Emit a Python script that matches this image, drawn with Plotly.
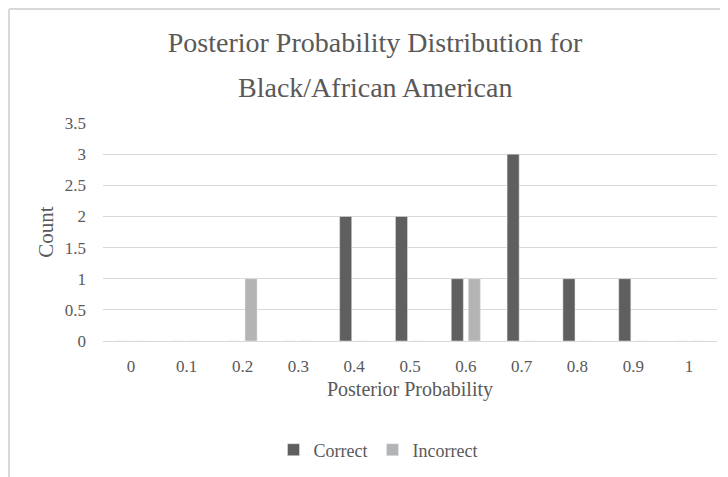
import plotly.graph_objects as go

categories = ["0", "0.1", "0.2", "0.3", "0.4", "0.5", "0.6", "0.7", "0.8", "0.9", "1"]
correct = [0, 0, 0, 0, 2, 2, 1, 3, 1, 1, 0]
incorrect = [0, 0, 1, 0, 0, 0, 1, 0, 0, 0, 0]
y_ticks = [0, 0.5, 1, 1.5, 2, 2.5, 3, 3.5]
y_ticklabels = ["0", "0.5", "1", "1.5", "2", "2.5", "3", "3.5"]
title_line1 = "Posterior Probability Distribution for"
title_line2 = "Black/African American"

FONT = "Liberation Serif, Times New Roman, serif"
TXT = "#595959"

fig = go.Figure()
fig.add_trace(go.Bar(name="Correct", x=categories, y=correct, marker_color="#5f5f5f"))
fig.add_trace(go.Bar(name="Incorrect", x=categories, y=incorrect, marker_color="#b4b4b4"))

# page has an 8px body margin; figure coords = page coords - 8
W, H = 720, 469
L, R, T, B = 95, 11, 115, 136
pw, ph = W - L - R, H - T - B


def px_x(v):
    return (v - L) / pw


def px_y(v):
    return (H - B - v) / ph


border = dict(color="#d9d9d9", width=2)

fig.update_layout(
    width=W, height=H,
    margin=dict(l=L, r=R, t=T, b=B),
    paper_bgcolor="white", plot_bgcolor="white",
    font=dict(family=FONT, color=TXT, size=17),
    barmode="group", bargap=0.39, bargroupgap=0.29,
    title=dict(text=title_line1,
               x=367 / W, xanchor="center", xref="container",
               y=1 - 34.5 / H, yanchor="middle", yref="container",
               font=dict(family=FONT, size=28, color=TXT)),
    annotations=[dict(text=title_line2, xref="paper", yref="paper",
                      x=px_x(367), y=px_y(79),
                      xanchor="center", yanchor="middle", showarrow=False,
                      font=dict(family=FONT, size=28, color=TXT))],
    xaxis=dict(type="category", showgrid=False, showline=False, zeroline=False,
               ticks="", ticklabelstandoff=13, tickfont=dict(size=17, color=TXT),
               title=dict(text="Posterior Probability", standoff=6, font=dict(size=20, color=TXT))),
    yaxis=dict(range=[0, 3.5], tickvals=y_ticks, ticktext=y_ticklabels,
               showgrid=True, gridcolor="#d9d9d9", gridwidth=1.3, zeroline=True,
               zerolinecolor="#d9d9d9", zerolinewidth=1.3, showline=False,
               ticks="", ticklabelstandoff=16, tickfont=dict(size=17, color=TXT),
               title=dict(text="Count", standoff=5, font=dict(size=21, color=TXT))),
    legend=dict(orientation="h", x=370 / W, xanchor="center", xref="container",
                y=1 - 442 / H, yanchor="middle", yref="container",
                font=dict(size=18, color=TXT), itemwidth=30, traceorder="normal"),
    shapes=[
        dict(type="line", xref="paper", yref="paper",
             x0=px_x(1), x1=px_x(W), y0=px_y(1), y1=px_y(1), line=border, layer="below"),
        dict(type="line", xref="paper", yref="paper",
             x0=px_x(1), x1=px_x(1), y0=px_y(1), y1=px_y(H), line=border, layer="below"),
    ],
)

fig.write_html("out.html")
